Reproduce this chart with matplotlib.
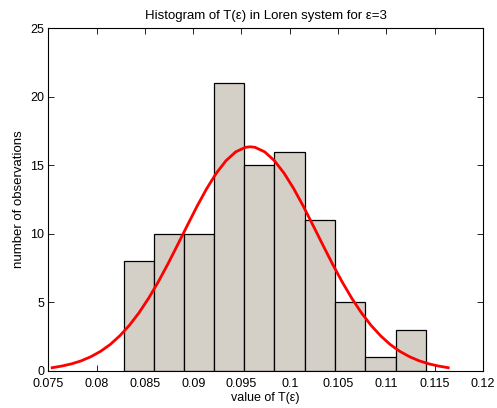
import numpy as np
import matplotlib.pyplot as plt
from matplotlib.ticker import FormatStrFormatter, MultipleLocator

# histogram of T(eps), bin edges and counts
bin_edges = [0.0828, 0.0859, 0.0890, 0.0922, 0.0953, 0.0984,
             0.1016, 0.1047, 0.1078, 0.1110, 0.1141]
counts = [8, 10, 10, 21, 15, 16, 11, 5, 1, 3]

# fitted curve, points
fit_x = [0.0754, 0.0764, 0.0774, 0.0784, 0.0794, 0.0804, 0.0814, 0.0824,
         0.0834, 0.0844, 0.0854, 0.0864, 0.0874, 0.0884, 0.0894, 0.0904,
         0.0914, 0.0924, 0.0934, 0.0944, 0.0954, 0.0959, 0.0964, 0.0974,
         0.0984, 0.0994, 0.1004, 0.1014, 0.1024, 0.1034, 0.1044, 0.1054,
         0.1064, 0.1074, 0.1084, 0.1094, 0.1104, 0.1114, 0.1124, 0.1134,
         0.1144, 0.1154, 0.1164]
fit_y = [0.22, 0.34, 0.50, 0.72, 1.02, 1.41, 1.91, 2.55,
         3.32, 4.24, 5.31, 6.51, 7.82, 9.21, 10.62, 12.01,
         13.30, 14.43, 15.34, 15.98, 16.31, 16.35, 16.31, 15.98,
         15.34, 14.43, 13.30, 12.01, 10.62, 9.21, 7.82, 6.51,
         5.31, 4.24, 3.32, 2.55, 1.91, 1.41, 1.02, 0.72,
         0.50, 0.34, 0.22]

plt.rcParams['font.family'] = ['Liberation Sans', 'DejaVu Sans']
plt.rcParams['font.size'] = 9

fig = plt.figure(figsize=(4.97, 4.08), dpi=100)
ax = fig.add_axes([0.0972, 0.0914, 0.8746, 0.8392])

left = np.array(bin_edges[:-1])
widths = np.diff(bin_edges)
ax.bar(left, counts, width=widths, align='edge', color='#d4d0c8',
       edgecolor='black', linewidth=0.9, zorder=2)
ax.plot(fit_x, fit_y, color='red', linewidth=2, zorder=3)

ax.set_xlim(0.075, 0.12)
ax.set_ylim(0, 25)
ax.xaxis.set_major_locator(MultipleLocator(0.005))
ax.yaxis.set_major_locator(MultipleLocator(5))
ax.xaxis.set_major_formatter(FormatStrFormatter('%g'))
ax.tick_params(direction='in', top=True, right=True, length=4, width=0.6,
               labelsize=9)
ax.tick_params(axis='x', pad=5)
ax.tick_params(axis='y', pad=3)
for s in ax.spines.values():
    s.set_linewidth(0.8)

ax.set_title('Histogram of T(ε) in Loren system for ε=3', fontsize=9.5, pad=7)
ax.set_xlabel('value of T(ε)', fontsize=9, labelpad=2)
ax.set_ylabel('number of observations', fontsize=9.5, labelpad=4)

plt.savefig('out.png', dpi=100)
plt.close()
